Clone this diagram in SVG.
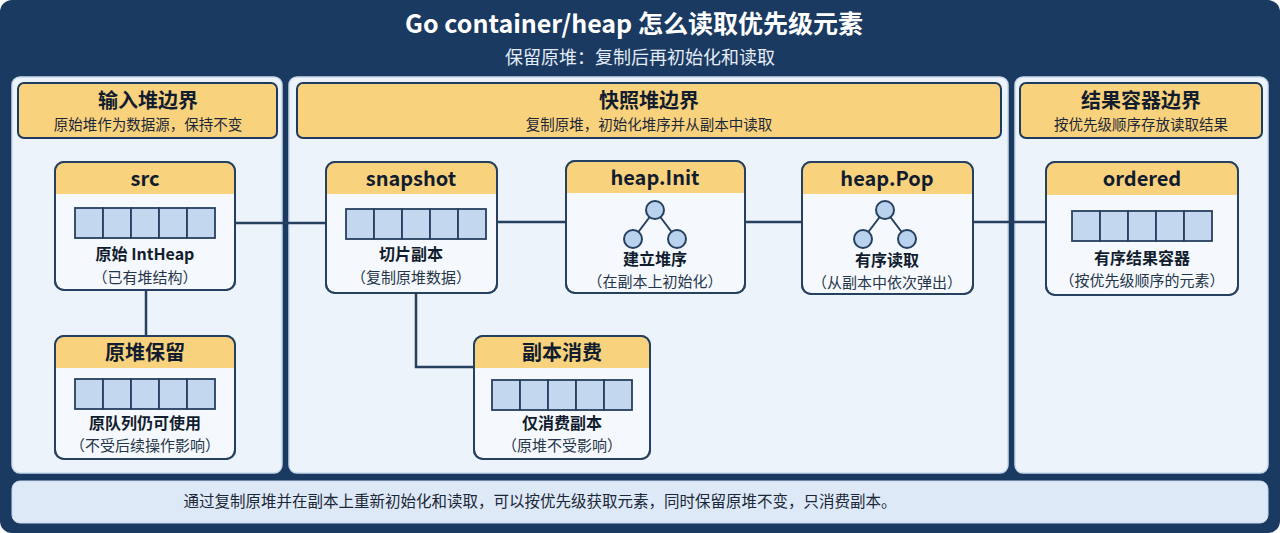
<svg xmlns="http://www.w3.org/2000/svg" width="1280" height="533" viewBox="0 0 1280 533">
<style>
text{font-family:"Noto Sans CJK SC","Noto Sans",sans-serif;text-anchor:middle}
.ttl{fill:#fff;font-size:25px;font-weight:bold}
.sub{fill:#e3ecf7;font-size:18px}
.panel{fill:#edf3fa;stroke:#c9d9ec;stroke-width:1.5}
.hdr{fill:#f9d27e;stroke:#1e3a5f;stroke-width:2}
.ht{fill:#111d2e;font-size:20px;font-weight:bold}
.hs{fill:#1b2738;font-size:14.5px}
.nb{fill:#f5f8fc;stroke:#26405f;stroke-width:2}
.nh{fill:#f9d27e}
.nt{fill:#111d2e;font-size:20px;font-weight:bold}
.l1{fill:#111d2e;font-size:16px;font-weight:bold}
.l2{fill:#26364a;font-size:15px}
.cell{fill:#c3d7ef;stroke:#26405f;stroke-width:1.8}
.con{fill:none;stroke:#26405f;stroke-width:2.5}
.cir{fill:#b9d2ee;stroke:#26405f;stroke-width:2}
</style>
<defs>
<g id="arr"><rect class="cell" x="0" y="0" width="28" height="30"/><rect class="cell" x="28" y="0" width="28" height="30"/><rect class="cell" x="56" y="0" width="28" height="30"/><rect class="cell" x="84" y="0" width="28" height="30"/><rect class="cell" x="112" y="0" width="28" height="30"/></g>
<g id="tree"><path class="con" d="M0,0 L-22,29 M0,0 L22,29" style="stroke-width:2"/><circle class="cir" cx="0" cy="0" r="9"/><circle class="cir" cx="-22" cy="29" r="9"/><circle class="cir" cx="22" cy="29" r="9"/></g>
</defs>
<rect x="0" y="0" width="1280" height="533" rx="12" fill="#1b3a62"/>
<text class="ttl" x="634" y="33">Go container/heap 怎么读取优先级元素</text>
<text class="sub" x="640" y="64">保留原堆：复制后再初始化和读取</text>
<g id="panels">
<rect class="panel" x="12" y="77" width="270" height="396" rx="8"/>
<rect class="panel" x="289" y="77" width="719" height="396" rx="8"/>
<rect class="panel" x="1015" y="77" width="253" height="396" rx="8"/>
<rect class="hdr" x="18" y="83" width="259" height="55" rx="6"/>
<text class="ht" x="148" y="108">输入堆边界</text><text class="hs" x="148" y="130">原始堆作为数据源，保持不变</text>
<rect class="hdr" x="297" y="83" width="704" height="55" rx="6"/>
<text class="ht" x="649" y="108">快照堆边界</text><text class="hs" x="649" y="130">复制原堆，初始化堆序并从副本中读取</text>
<rect class="hdr" x="1020" y="83" width="242" height="55" rx="6"/>
<text class="ht" x="1141" y="108">结果容器边界</text><text class="hs" x="1141" y="130">按优先级顺序存放读取结果</text>
</g>
<g id="connectors">
<path class="con" d="M235,223 H326 M497,222 H566 M745,222 H802 M973,222 H1046 M146,290 V336 M416,293 V367 H474"/>
</g>
<g id="src"><rect class="nb" x="55" y="162" width="180" height="128" rx="9"/><path class="nh" d="M64,163 H226 A8,8 0 0 1 234,171 V194 H56 V171 A8,8 0 0 1 64,163Z"/><rect x="55" y="162" width="180" height="128" rx="9" fill="none" stroke="#26405f" stroke-width="2"/>
<text class="nt" x="145" y="186">src</text><use href="#arr" x="75" y="208"/><text class="l1" x="145" y="260">原始 IntHeap</text><text class="l2" x="145" y="283">（已有堆结构）</text></g>
<g id="snapshot"><rect class="nb" x="326" y="162" width="171" height="131" rx="9"/><path class="nh" d="M335,163 H488 A8,8 0 0 1 496,171 V194 H327 V171 A8,8 0 0 1 335,163Z"/><rect x="326" y="162" width="171" height="131" rx="9" fill="none" stroke="#26405f" stroke-width="2"/>
<text class="nt" x="411" y="186">snapshot</text><use href="#arr" x="346" y="209"/><text class="l1" x="411" y="260">切片副本</text><text class="l2" x="411" y="283">（复制原堆数据）</text></g>
<g id="heapInit"><rect class="nb" x="566" y="161" width="179" height="132" rx="9"/><path class="nh" d="M575,162 H736 A8,8 0 0 1 744,170 V193 H567 V170 A8,8 0 0 1 575,162Z"/><rect x="566" y="161" width="179" height="132" rx="9" fill="none" stroke="#26405f" stroke-width="2"/>
<text class="nt" x="655" y="185">heap.Init</text><use href="#tree" x="655" y="210"/><text class="l1" x="655" y="265">建立堆序</text><text class="l2" x="655" y="287">（在副本上初始化）</text></g>
<g id="heapPop"><rect class="nb" x="802" y="162" width="171" height="132" rx="9"/><path class="nh" d="M811,163 H964 A8,8 0 0 1 972,171 V194 H803 V171 A8,8 0 0 1 811,163Z"/><rect x="802" y="162" width="171" height="132" rx="9" fill="none" stroke="#26405f" stroke-width="2"/>
<text class="nt" x="887" y="186">heap.Pop</text><use href="#tree" x="885" y="210"/><text class="l1" x="887" y="266">有序读取</text><text class="l2" x="887" y="288">（从副本中依次弹出）</text></g>
<g id="ordered"><rect class="nb" x="1046" y="162" width="192" height="133" rx="9"/><path class="nh" d="M1055,163 H1229 A8,8 0 0 1 1237,171 V195 H1047 V171 A8,8 0 0 1 1055,163Z"/><rect x="1046" y="162" width="192" height="133" rx="9" fill="none" stroke="#26405f" stroke-width="2"/>
<text class="nt" x="1142" y="186">ordered</text><use href="#arr" x="1072" y="211"/><text class="l1" x="1142" y="264">有序结果容器</text><text class="l2" x="1142" y="286">（按优先级顺序的元素）</text></g>
<g id="keep"><rect class="nb" x="55" y="336" width="180" height="123" rx="9"/><path class="nh" d="M64,337 H226 A8,8 0 0 1 234,345 V368 H56 V345 A8,8 0 0 1 64,337Z"/><rect x="55" y="336" width="180" height="123" rx="9" fill="none" stroke="#26405f" stroke-width="2"/>
<text class="nt" x="145" y="360">原堆保留</text><use href="#arr" x="75" y="379"/><text class="l1" x="145" y="429">原队列仍可使用</text><text class="l2" x="145" y="451">（不受后续操作影响）</text></g>
<g id="consume"><rect class="nb" x="474" y="336" width="176" height="123" rx="9"/><path class="nh" d="M483,337 H641 A8,8 0 0 1 649,345 V368 H475 V345 A8,8 0 0 1 483,337Z"/><rect x="474" y="336" width="176" height="123" rx="9" fill="none" stroke="#26405f" stroke-width="2"/>
<text class="nt" x="562" y="360">副本消费</text><use href="#arr" x="492" y="380"/><text class="l1" x="562" y="429">仅消费副本</text><text class="l2" x="562" y="451">（原堆不受影响）</text></g>
<g id="footer"><rect x="12" y="481" width="1256" height="42" rx="8" fill="#dde9f6" stroke="#c9d9ec"/>
<text x="540" y="507" style="font-size:15.5px;fill:#1b2738">通过复制原堆并在副本上重新初始化和读取，可以按优先级获取元素，同时保留原堆不变，只消费副本。</text></g>
</svg>
